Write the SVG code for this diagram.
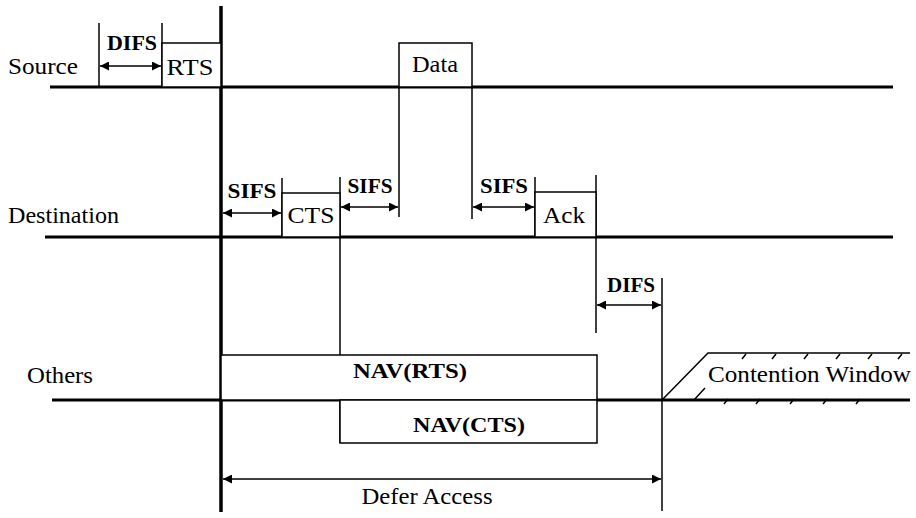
<svg xmlns="http://www.w3.org/2000/svg" width="916" height="518" viewBox="0 0 916 518">
<defs>
<marker id="ah" viewBox="0 0 10 10" refX="10" refY="5" markerWidth="11" markerHeight="9" markerUnits="userSpaceOnUse" orient="auto-start-reverse">
<path d="M0,0 L10,5 L0,10 z" fill="#000"/>
</marker>
<style>
.ln{stroke:#000;stroke-width:1.5;fill:none}
.th{stroke:#000;stroke-width:3;fill:none}
.ax{stroke:#000;stroke-width:1.5;fill:none;marker-start:url(#ah);marker-end:url(#ah)}
.lb{font-family:"Liberation Serif",serif;font-size:23px;fill:#000}
.bd{font-family:"Liberation Serif",serif;font-size:21px;font-weight:bold;fill:#000}
.bx{fill:#fff;stroke:#000;stroke-width:1.5}
</style>
</defs>
<g id="labels">
<text class="lb" x="8" y="74" textLength="70" lengthAdjust="spacingAndGlyphs">Source</text>
<text class="lb" x="8" y="223" textLength="111" lengthAdjust="spacingAndGlyphs">Destination</text>
<text class="lb" x="27" y="383" textLength="66" lengthAdjust="spacingAndGlyphs">Others</text>
</g>
<g id="connectors">
<line class="th" x1="50" y1="87" x2="893" y2="87"/>
<line class="th" x1="45" y1="237" x2="893" y2="237"/>
<line class="th" x1="52" y1="400" x2="910" y2="400"/>
<line x1="221" y1="6" x2="221" y2="512" stroke="#000" stroke-width="3.5"/>
<line class="ln" x1="99" y1="23" x2="99" y2="87"/>
<line class="ln" x1="162" y1="23" x2="162" y2="87"/>
<line class="ax" x1="100" y1="66" x2="161" y2="66"/>
<line class="ln" x1="282" y1="178" x2="282" y2="237"/>
<line class="ax" x1="223" y1="213" x2="281" y2="213"/>
<line class="ln" x1="340" y1="177" x2="340" y2="443"/>
<line class="ax" x1="341" y1="207" x2="398" y2="207"/>
<line class="ln" x1="399" y1="87" x2="399" y2="217"/>
<line class="ln" x1="472" y1="87" x2="472" y2="219"/>
<line class="ax" x1="473" y1="207" x2="534" y2="207"/>
<line class="ln" x1="535" y1="177" x2="535" y2="237"/>
<line class="ln" x1="596" y1="175" x2="596" y2="333"/>
<line class="ln" x1="662" y1="278" x2="662" y2="511"/>
<line class="ax" x1="597" y1="305" x2="661" y2="305"/>
<line class="ax" x1="223" y1="479" x2="661" y2="479"/>
</g>
<g id="rts">
<rect class="bx" x="162" y="43" width="59" height="44"/>
<text class="lb" x="190" y="75" text-anchor="middle" textLength="47" lengthAdjust="spacingAndGlyphs">RTS</text>
</g>
<g id="difs1"><text class="bd" x="132" y="50" text-anchor="middle" textLength="50" lengthAdjust="spacingAndGlyphs">DIFS</text></g>
<g id="data">
<rect class="bx" x="399" y="43" width="73" height="44" stroke-width="2.5"/>
<text class="lb" x="435" y="72" text-anchor="middle" textLength="46" lengthAdjust="spacingAndGlyphs">Data</text>
</g>
<g id="sifs1"><text class="bd" x="252" y="198" text-anchor="middle" textLength="49" lengthAdjust="spacingAndGlyphs">SIFS</text></g>
<g id="cts">
<rect class="bx" x="282" y="193" width="58" height="44"/>
<text class="lb" x="311" y="223" text-anchor="middle" textLength="47" lengthAdjust="spacingAndGlyphs">CTS</text>
</g>
<g id="sifs2"><text class="bd" x="370" y="193" text-anchor="middle" textLength="45" lengthAdjust="spacingAndGlyphs">SIFS</text></g>
<g id="sifs3"><text class="bd" x="504" y="193" text-anchor="middle" textLength="48" lengthAdjust="spacingAndGlyphs">SIFS</text></g>
<g id="ack">
<rect class="bx" x="535" y="192" width="61" height="45" stroke-width="2"/>
<text class="lb" x="564" y="223" text-anchor="middle" textLength="42" lengthAdjust="spacingAndGlyphs">Ack</text>
</g>
<g id="difs2"><text class="bd" x="631" y="292" text-anchor="middle" textLength="48" lengthAdjust="spacingAndGlyphs">DIFS</text></g>
<g id="navrts">
<rect class="bx" x="221" y="355" width="376" height="45"/>
<text class="bd" x="410" y="378" text-anchor="middle" textLength="114" lengthAdjust="spacingAndGlyphs">NAV(RTS)</text>
</g>
<g id="navcts">
<rect class="bx" x="340" y="400" width="257" height="43"/>
<text class="bd" x="469" y="432" text-anchor="middle" textLength="112" lengthAdjust="spacingAndGlyphs">NAV(CTS)</text>
</g>
<g id="contention">
<path class="ln" d="M662,400 L708,353 L910,353"/>
<path d="M742,359 L746,354 M772,359 L776,354 M804,359 L808,354 M836,359 L840,354 M868,359 L872,354 M898,359 L902,354 M694,400 L705,388 M724,404 L728,399 M756,404 L760,399 M790,404 L794,399 M823,404 L827,399 M856,404 L860,399" stroke="#000" stroke-width="1.5"/>
<text class="lb" x="708" y="382" textLength="203" lengthAdjust="spacingAndGlyphs">Contention Window</text>
</g>
<g id="defer"><text class="lb" x="427" y="504" text-anchor="middle" textLength="131" lengthAdjust="spacingAndGlyphs">Defer Access</text></g>
</svg>
